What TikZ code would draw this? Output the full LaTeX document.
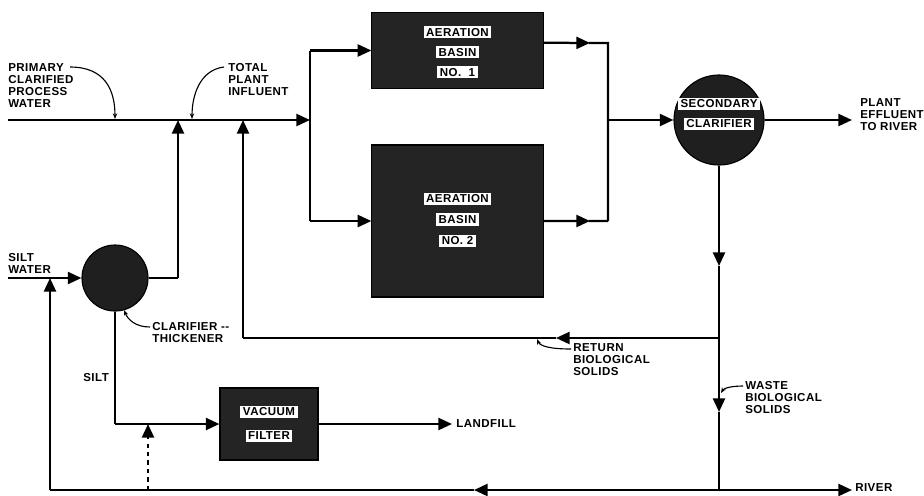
\documentclass[tikz,border=0pt]{standalone}
\usepackage{fontspec}
\usepackage{tikz}
\usetikzlibrary{arrows.meta,positioning,calc}
\newfontfamily\lblfont[LetterSpace=4]{Liberation Sans Bold}
\newcommand{\lbl}{\lblfont\fontsize{8.2}{8.6}\selectfont}
\tikzset{
  unit/.style={rectangle, draw=black, fill=black!86, line width=0.8pt, inner sep=0pt},
  tank/.style={circle, draw=black, fill=black!88, line width=0.8pt, inner sep=0pt},
  tag/.style={fill=white, text=black, inner xsep=1.8pt, inner ysep=1.6pt, font=\lbl},
  lbl/.style={font=\lbl, align=left, anchor=north west, inner sep=0pt},
  pipe/.style={line width=1.6pt},
  flow/.style={-{Triangle[length=3.4mm,width=3mm]}, line width=1.6pt},
  leader/.style={-{Stealth[length=1.4mm,width=1.1mm]}, line width=0.8pt},
}
\begin{document}
\begin{tikzpicture}[x=0.025cm, y=-0.025cm]
  \useasboundingbox (0,0) rectangle (924,495);
  % process units
  \node[unit, minimum width=4.28cm, minimum height=1.9cm] (bas1) at (457.5,50.5) {};
  \node[unit, minimum width=4.28cm, minimum height=3.8cm] (bas2) at (457.5,221) {};
  \node[unit, minimum width=2.45cm, minimum height=1.8cm] (vac) at (269,424) {};
  \node[tank, minimum size=2.25cm] (sec) at (719,120) {};
  \node[tank, minimum size=1.65cm] (thk) at (115,278) {};
  \node[tag] (bas1a) at ([yshift=0.46cm]bas1.center) {AERATION};
  \node[tag] (bas1b) at ([yshift=-0.04cm]bas1.center) {BASIN};
  \node[tag] (bas1c) at ([yshift=-0.54cm]bas1.center) {NO.~~1};
  \node[tag] (bas2a) at ([yshift=0.55cm]bas2.center) {AERATION};
  \node[tag] (bas2b) at ([yshift=0.03cm]bas2.center) {BASIN};
  \node[tag] (bas2c) at ([yshift=-0.5cm]bas2.center) {NO.~2};
  \node[tag] (vaca) at ([yshift=0.3cm]vac.center) {VACUUM};
  \node[tag] (vacb) at ([yshift=-0.3cm]vac.center) {FILTER};
  \node[tag] (seca) at ([yshift=0.4cm]sec.center) {SECONDARY};
  \node[tag] (secb) at ([yshift=-0.1cm]sec.center) {CLARIFIER};
  % junctions
  \coordinate (pin) at (8,120);
  \coordinate (split) at (310,120);
  \coordinate (splt) at (split |- bas1.west);
  \coordinate (splb) at (split |- bas2.west);
  \coordinate (b1out) at ($(bas1.north east)!0.4!(bas1.south east)$);
  \coordinate (mrgt) at (608,43);
  \coordinate (mrg) at (608,120);
  \coordinate (mrgb) at (mrg |- bas2.east);
  \coordinate (eff) at (852,120);
  \coordinate (dn1) at (719,266);
  \coordinate (ret) at (719,338);
  \coordinate (ret1) at (556,338);
  \coordinate (retc) at (243,338);
  \coordinate (reti) at (243,120);
  \coordinate (dn2) at (719,412);
  \coordinate (bot) at (719,490);
  \coordinate (riv) at (852,490);
  \coordinate (bot1) at (474,490);
  \coordinate (botl) at (50,490);
  \coordinate (swi) at (50,278);
  \coordinate (sw) at (8,278);
  \coordinate (thko) at (178,278);
  \coordinate (thki) at (178,120);
  \coordinate (slc) at (115,424);
  \coordinate (dsh0) at (148,490);
  \coordinate (dsh1) at (148,424);
  \coordinate (lfl) at (452,424);
  % main flow
  \draw[flow] (pin) -- (split);
  \draw[pipe] (splt) -- (splb);
  \draw[flow] (splt) -- (bas1.west);
  \draw[flow] (splb) -- (bas2.west);
  \draw[flow] (b1out) -- ($(b1out)!0.72!(mrgt)$);
  \draw[pipe] ($(b1out)!0.7!(mrgt)$) -- (mrgt) -- (mrgb);
  \draw[flow] (bas2.east) -- ($(bas2.east)!0.72!(mrgb)$);
  \draw[pipe] ($(bas2.east)!0.7!(mrgb)$) -- (mrgb);
  \draw[flow] (mrg) -- (sec.west);
  \draw[flow] (sec.east) -- (eff);
  % sludge lines
  \draw[flow] (sec.south) -- (dn1);
  \draw[pipe] (dn1) -- (ret);
  \draw[flow] (ret) -- (ret1);
  \draw[pipe] (ret1) -- (retc);
  \draw[flow] (retc) -- (reti);
  \draw[flow] (ret) -- (dn2);
  \draw[pipe] (dn2) -- (bot);
  \draw[flow] (bot) -- (riv);
  \draw[flow] (bot) -- (bot1);
  \draw[pipe] (bot1) -- (botl);
  \draw[flow] (botl) -- (swi);
  % silt water and thickener
  \draw[flow] (sw) -- (thk.west);
  \draw[pipe] (thk.east) -- (thko);
  \draw[flow] (thko) -- (thki);
  \draw[pipe] (thk.south) -- (slc);
  \draw[flow] (slc) -- (vac.west);
  \draw[flow] (vac.east) -- (lfl);
  \draw[flow, dashed] (dsh0) -- (dsh1);
  % labels
  \node[lbl] (pcpw) at (8,63) {PRIMARY\\CLARIFIED\\PROCESS\\WATER};
  \node[lbl] (tpi) at (228,63) {TOTAL\\PLANT\\INFLUENT};
  \node[lbl] (pet) at (860,98) {PLANT\\EFFLUENT\\TO RIVER};
  \node[lbl] (swl) at (8,253) {SILT\\WATER};
  \node[lbl] (thkl) at (152,322) {CLARIFIER --\\THICKENER};
  \node[lbl] (sltl) at (83,373) {SILT};
  \node[lbl] (rbs) at (573,343) {RETURN\\BIOLOGICAL\\SOLIDS};
  \node[lbl] (wbs) at (745,381) {WASTE\\BIOLOGICAL\\SOLIDS};
  \node[lbl, anchor=west] (lfll) at (456,424) {LANDFILL};
  \node[lbl, anchor=west] (rivl) at (855,488) {RIVER};
  \coordinate (ld1) at (70,67);
  \coordinate (ld1e) at (115,119);
  \coordinate (ld2) at (224,67);
  \coordinate (ld2e) at (192,119);
  \coordinate (ld3) at (150,327);
  \coordinate (ld3e) at (124,310);
  \coordinate (ld4) at (571,349);
  \coordinate (ld4e) at (537,339);
  \coordinate (ld5) at (743,386);
  \coordinate (ld5e) at (721,393);
  \draw[leader] (ld1) .. controls (105,67) and (115,90) .. (ld1e);
  \draw[leader] (ld2) .. controls (200,70) and (192,95) .. (ld2e);
  \draw[leader] (ld3) .. controls (136,327) and (128,320) .. (ld3e);
  \draw[leader] (ld4) .. controls (550,349) and (540,346) .. (ld4e);
  \draw[leader] (ld5) .. controls (732,386) and (724,388) .. (ld5e);
\end{tikzpicture}
\end{document}
